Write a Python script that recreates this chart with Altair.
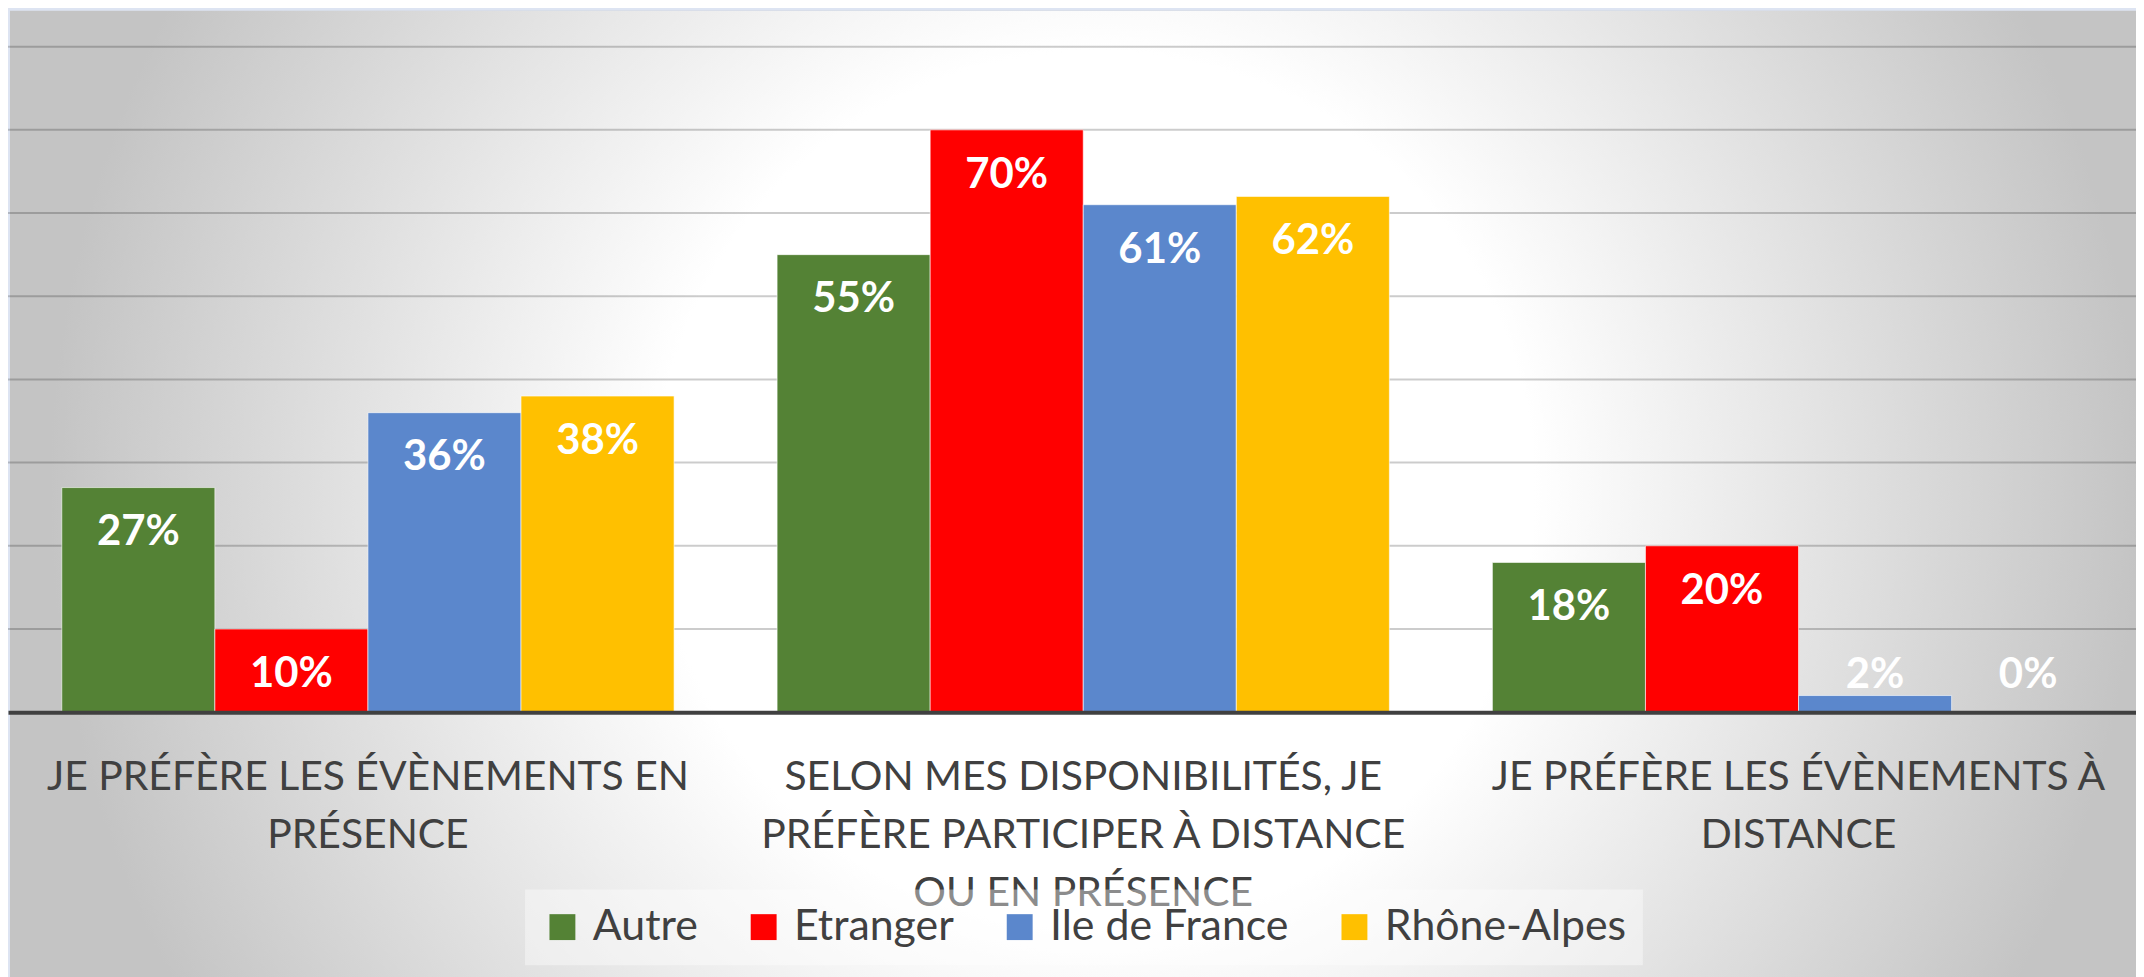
import altair as alt
import pandas as pd

# ---------------- data ----------------
CATEGORIES = [
    "JE PRÉFÈRE LES ÉVÈNEMENTS EN\nPRÉSENCE",
    "SELON MES DISPONIBILITÉS, JE\nPRÉFÈRE PARTICIPER À DISTANCE\nOU EN PRÉSENCE",
    "JE PRÉFÈRE LES ÉVÈNEMENTS À\nDISTANCE",
]
SERIES = ["Autre", "Etranger", "Ile de France", "Rhône-Alpes"]
COLORS = ["#548235", "#FF0000", "#5B87CC", "#FFC000"]
AUTRE = [27, 55, 18]
ETRANGER = [10, 70, 20]
ILE_DE_FRANCE = [36, 61, 2]
RHONE_ALPES = [38, 62, 0]
GRID_TICKS = [10, 20, 30, 40, 50, 60, 70, 80]

rows = []
for s, vals in zip(SERIES, [AUTRE, ETRANGER, ILE_DE_FRANCE, RHONE_ALPES]):
    for c, v in zip(CATEGORIES, vals):
        rows.append({"category": c, "series": s, "value": v})
df = pd.DataFrame(rows)

W, H = 2136, 668

yscale = alt.Scale(domain=[0, 80], nice=False, zero=True)
xscale = alt.Scale(domain=CATEGORIES, paddingInner=0.144, paddingOuter=0.0595, align=0.632)

x_axis = alt.Axis(
    title=None,
    labelExpr="split(datum.label, '\\n')",
    labelFont="Lato",
    labelFontSize=41,
    labelColor="#404040",
    labelLineHeight=58,
    labelBaseline="alphabetic",
    labelPadding=78,
    labelLimit=1000,
    labelOverlap=False,
    labelAngle=0,
    ticks=False,
    tickSize=0,
    domainColor="#404040",
    domainWidth=4,
    grid=False,
    zindex=1,
)
x_enc = alt.X("category:N", scale=xscale, sort=CATEGORIES, axis=x_axis)
xoff_enc = alt.XOffset("series:N", sort=SERIES, scale=alt.Scale(paddingInner=0, paddingOuter=0))

# ---------------- background panel (radial gradient) ----------------
gradient = alt.RadialGradient(
    gradient="radial",
    stops=[
        alt.GradientStop(offset=0, color="#ffffff"),
        alt.GradientStop(offset=0.42, color="#ffffff"),
        alt.GradientStop(offset=1, color="#c4c4c4"),
    ],
    x1=0.495, y1=0.219, r1=0,
    x2=0.495, y2=0.219, r2=0.477,
)
panel = alt.Chart(pd.DataFrame({"panel": [0]})).mark_rect(fill=gradient).encode(
    x=alt.value(2), x2=alt.value(2202), y=alt.value(-36), y2=alt.value(2164)
)

# ---------------- gridlines ----------------
grid = alt.Chart(pd.DataFrame({"tick": GRID_TICKS})).mark_rule(
    stroke="black", strokeOpacity=0.2, strokeWidth=2
).encode(y=alt.Y("tick:Q", scale=yscale, axis=None))

# ---------------- bars ----------------
bars = alt.Chart(df).mark_bar(stroke="white", strokeWidth=1, strokeOpacity=0.6).encode(
    x=x_enc,
    xOffset=xoff_enc,
    y=alt.Y("value:Q", scale=yscale, axis=None),
    color=alt.Color(
        "series:N",
        scale=alt.Scale(domain=SERIES, range=COLORS),
        legend=alt.Legend(
            title=None,
            orient="none",
            legendX=519,
            legendY=846,
            direction="horizontal",
            columns=4,
            symbolType="square",
            symbolSize=676,
            symbolStrokeWidth=0,
            labelFont="Lato",
            labelFontSize=43,
            labelColor="#404040",
            labelOffset=9,
            labelLimit=1000,
            columnPadding=44,
            padding=16,
            fillColor="rgba(255,255,255,0.4)",
            zindex=2,
        ),
    ),
)

# ---------------- value labels ----------------
labels = alt.Chart(df).transform_calculate(
    ly="max(datum.value, 9.8)", txt="datum.value + '%'"
).mark_text(
    font="Lato", fontSize=42, fontWeight="bold", color="white",
    baseline="alphabetic", align="center", dy=58,
).encode(
    x=x_enc,
    xOffset=xoff_enc,
    y=alt.Y("ly:Q", scale=yscale, axis=None),
    text="txt:N",
)

chart = alt.layer(panel, grid, bars, labels).properties(
    width=W,
    height=H,
    autosize=alt.AutoSizeParams(type="none"),
    padding={"left": 0, "top": 37, "right": 0, "bottom": 264},
    background="#dde4f2",
).configure_view(strokeWidth=0)

chart.save("out.html", embed_options={"renderer": "svg", "actions": False})
